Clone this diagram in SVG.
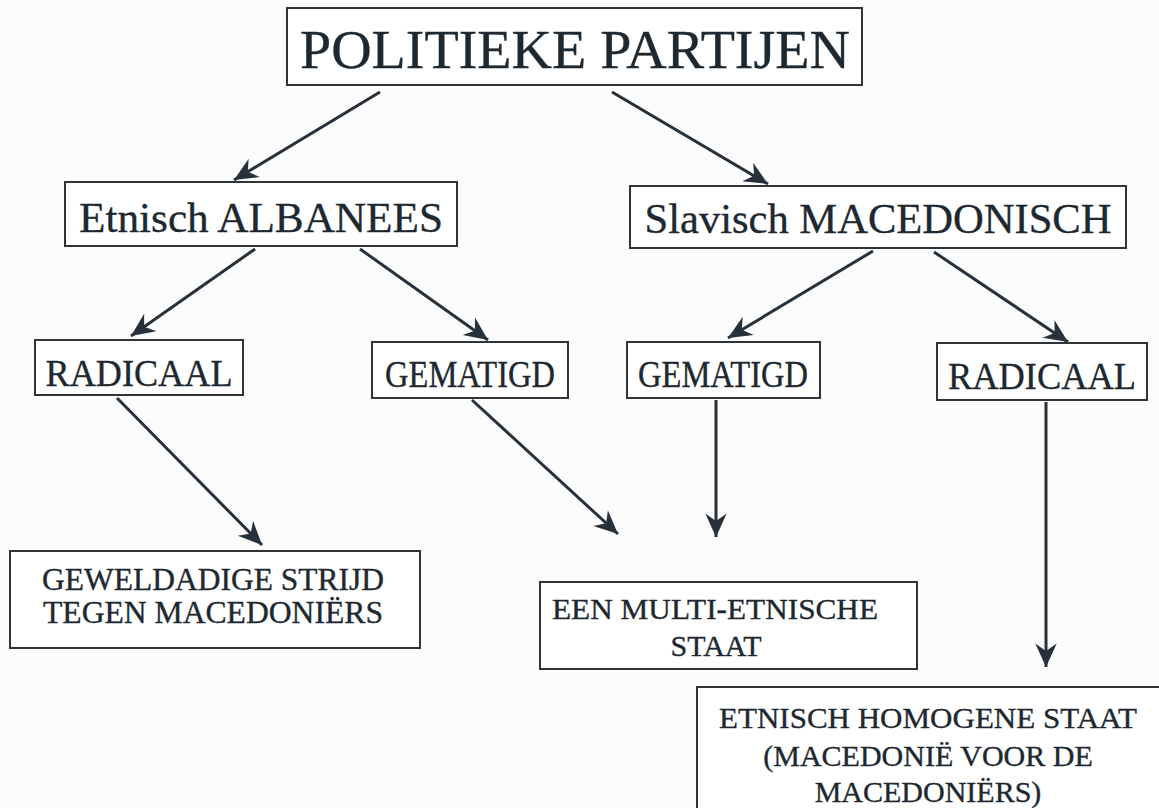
<svg xmlns="http://www.w3.org/2000/svg" width="1159" height="808" viewBox="0 0 1159 808">
<defs>
<style>
.box{fill:#ffffff;stroke:#2f3438;stroke-width:2}
.t{fill:#1e2830;stroke:#1e2830;stroke-width:0.35;text-anchor:middle}
.c{stroke:#27313b;stroke-width:3;fill:none;marker-end:url(#ah)}
</style>
<marker id="ah" markerUnits="userSpaceOnUse" markerWidth="30" markerHeight="30" viewBox="-24 -12 28 24" refX="0" refY="0" orient="auto">
<path d="M0,0 L-22,-10 L-15,0 L-22,10 Z" fill="#27313b"/>
</marker>
</defs>
<rect width="1159" height="808" fill="#fcfcfc"/>
<g id="connectors">
<line class="c" x1="380" y1="92" x2="234" y2="180"/>
<line class="c" x1="612" y1="92" x2="768" y2="184"/>
<line class="c" x1="255" y1="249" x2="131" y2="336"/>
<line class="c" x1="360" y1="249" x2="488" y2="340"/>
<line class="c" x1="873" y1="251" x2="728" y2="338"/>
<line class="c" x1="934" y1="252" x2="1068" y2="342"/>
<line class="c" x1="117" y1="398" x2="262" y2="545"/>
<line class="c" x1="472" y1="400" x2="618" y2="534"/>
<line class="c" x1="716" y1="400" x2="716" y2="537"/>
<line class="c" x1="1046" y1="402" x2="1046" y2="667"/>
</g>
<g font-family="Liberation Serif, Times New Roman, serif">
<g id="n-politieke">
<rect class="box" x="287" y="8" width="575" height="77"/>
<text class="t" x="575" y="68" font-size="55" textLength="550" lengthAdjust="spacingAndGlyphs">POLITIEKE PARTIJEN</text>
</g>
<g id="n-albanees">
<rect class="box" x="65" y="182" width="392" height="64"/>
<text class="t" x="261" y="232" font-size="43" textLength="364" lengthAdjust="spacingAndGlyphs">Etnisch ALBANEES</text>
</g>
<g id="n-macedonisch">
<rect class="box" x="630" y="186" width="496" height="62"/>
<text class="t" x="878" y="233" font-size="43" textLength="467" lengthAdjust="spacingAndGlyphs">Slavisch MACEDONISCH</text>
</g>
<g id="n-radicaal-l">
<rect class="box" x="35" y="340" width="208" height="55"/>
<text class="t" x="139" y="386" font-size="38" textLength="187" lengthAdjust="spacingAndGlyphs">RADICAAL</text>
</g>
<g id="n-gematigd-l">
<rect class="box" x="372" y="342" width="196" height="56"/>
<text class="t" x="470" y="387" font-size="38" textLength="170" lengthAdjust="spacingAndGlyphs">GEMATIGD</text>
</g>
<g id="n-gematigd-r">
<rect class="box" x="627" y="342" width="193" height="56"/>
<text class="t" x="723" y="387" font-size="38" textLength="170" lengthAdjust="spacingAndGlyphs">GEMATIGD</text>
</g>
<g id="n-radicaal-r">
<rect class="box" x="937" y="343" width="210" height="57"/>
<text class="t" x="1042" y="389" font-size="38" textLength="188" lengthAdjust="spacingAndGlyphs">RADICAAL</text>
</g>
<g id="n-geweld">
<rect class="box" x="10" y="551" width="410" height="97"/>
<text class="t" x="213" y="590" font-size="31" textLength="342" lengthAdjust="spacingAndGlyphs">GEWELDADIGE STRIJD</text>
<text class="t" x="213" y="623" font-size="31" textLength="340" lengthAdjust="spacingAndGlyphs">TEGEN MACEDONIËRS</text>
</g>
<g id="n-multi">
<rect class="box" x="540" y="582" width="377" height="87"/>
<text class="t" x="715" y="619" font-size="30" textLength="326" lengthAdjust="spacingAndGlyphs">EEN MULTI-ETNISCHE</text>
<text class="t" x="716" y="656" font-size="30">STAAT</text>
</g>
<g id="n-homogeen">
<rect class="box" x="697" y="687" width="480" height="140"/>
<text class="t" x="928" y="728" font-size="30" textLength="418" lengthAdjust="spacingAndGlyphs">ETNISCH HOMOGENE STAAT</text>
<text class="t" x="928" y="766" font-size="30">(MACEDONIË VOOR DE</text>
<text class="t" x="928" y="802" font-size="30">MACEDONIËRS)</text>
</g>
</g>
</svg>
